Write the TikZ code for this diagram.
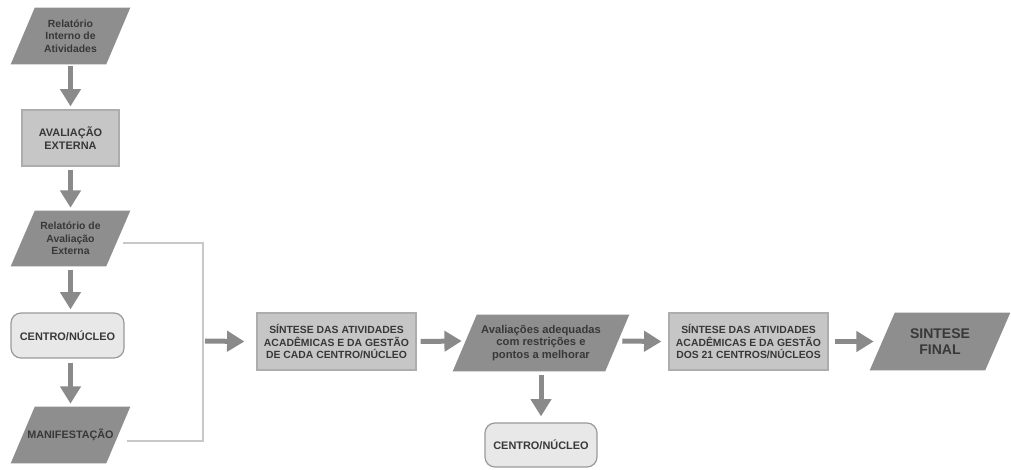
\documentclass[tikz,border=0pt]{standalone}
\usepackage{fontspec}
\setmainfont{Liberation Sans}
\usetikzlibrary{arrows.meta,backgrounds}
\definecolor{parafill}{HTML}{8E8E8E}
\definecolor{rectfill}{HTML}{C6C6C6}
\definecolor{rectline}{HTML}{ADADAD}
\definecolor{roundfill}{HTML}{E8E8E8}
\definecolor{roundline}{HTML}{9A9A9A}
\definecolor{arrowcol}{HTML}{8A8A8A}
\definecolor{linkcol}{HTML}{C8C8C8}
\definecolor{textcol}{HTML}{383838}
\newcommand\drawpara[2]{\fill[parafill] ([xshift=#2]#1.north west) -- (#1.north east) -- ([xshift=-#2]#1.south east) -- (#1.south west) -- cycle;}
\begin{document}
\begin{tikzpicture}[x=0.75pt,y=-0.75pt,
  sz/.style 2 args={minimum width=#1*0.75pt,minimum height=#2*0.75pt,inner sep=0pt},
  txt/.style={align=center,text=textcol,font=\bfseries\fontsize{7.8}{9.4}\selectfont},
  rectbox/.style={txt,fill=rectfill,draw=rectline,line width=0.9pt},
  roundbox/.style={txt,fill=roundfill,draw=roundline,line width=0.9pt,rounded corners=7.5pt,font=\bfseries\fontsize{8.2}{9.8}\selectfont},
  parabox/.style={txt},
  arr/.style={draw=arrowcol,line width=3.75pt,-{Triangle[width=15pt,length=13pt]}},
  link/.style={draw=linkcol,line width=2.2pt},
]
\useasboundingbox (0,0) rectangle (1011,470);

\node[parabox,sz={119}{56}] (p1) at (70.5,36) {Relatório\\Interno de\\Atividades};
\node[rectbox,sz={97}{56},font=\bfseries\fontsize{8.2}{9.3}\selectfont] (r2) at (70.5,138) {AVALIAÇÃO\\EXTERNA};
\node[parabox,sz={119}{55}] (p3) at (70.5,238.5) {Relatório de\\Avaliação\\Externa};
\node[roundbox,sz={113}{45}] (r4) at (67.5,335.5) {CENTRO/NÚCLEO};
\node[parabox,sz={119}{56},font=\bfseries\fontsize{8.1}{9.6}\selectfont] (p5) at (70.5,435) {MANIFESTAÇÃO};
\node[rectbox,sz={159}{57}] (r6) at (336.5,341.5) {SÍNTESE DAS ATIVIDADES\\ACADÊMICAS E DA GESTÃO\\DE CADA CENTRO/NÚCLEO};
\node[parabox,sz={176}{56},font=\bfseries\fontsize{8.4}{9.6}\selectfont] (p7) at (541,343) {Avaliações adequadas\\com restrições e\\pontos a melhorar};
\node[roundbox,sz={112}{44}] (r8) at (541,445) {CENTRO/NÚCLEO};
\node[rectbox,sz={159}{57}] (r9) at (748.5,341.5) {SÍNTESE DAS ATIVIDADES\\ACADÊMICAS E DA GESTÃO\\DOS 21 CENTROS/NÚCLEOS};
\node[parabox,sz={140}{57},font=\bfseries\fontsize{10.5}{12}\selectfont] (p10) at (940,341.5) {SINTESE\\FINAL};

\begin{scope}[on background layer]
\drawpara{p1}{18pt}
\drawpara{p3}{18pt}
\drawpara{p5}{18pt}
\drawpara{p7}{18pt}
\drawpara{p10}{18.75pt}
\end{scope}

\coordinate (jn) at (203,341);

\draw[arr] ([yshift=-1.5pt]p1.south) -- ([yshift=2.25pt]r2.north);
\draw[arr] ([yshift=-2.25pt]r2.south) -- ([yshift=2.25pt]p3.north);
\draw[arr] ([yshift=-3pt]p3.south) -- ([yshift=2.25pt]p3.south |- r4.north);
\draw[arr] ([yshift=-3pt]p3.south |- r4.south) -- ([yshift=2.25pt]p5.north);
\draw[link] ([xshift=-5.25pt,yshift=-3.375pt]p3.east) -| (jn) |- ([xshift=-2.25pt,yshift=-4.5pt]p5.east);
\draw[arr] ([xshift=1.5pt]jn) -- ([xshift=-9pt]r6.west);
\draw[arr] ([xshift=3pt]r6.east) -- ([xshift=6.75pt,yshift=1.5pt]p7.west);
\draw[arr] ([yshift=-3pt]p7.south) -- ([yshift=4.5pt]r8.north);
\draw[arr] ([xshift=-5.25pt,yshift=1.5pt]p7.east) -- ([xshift=-5.25pt]r9.west);
\draw[arr] ([xshift=4.5pt]r9.east) -- ([xshift=3pt]p10.west);
\end{tikzpicture}
\end{document}
